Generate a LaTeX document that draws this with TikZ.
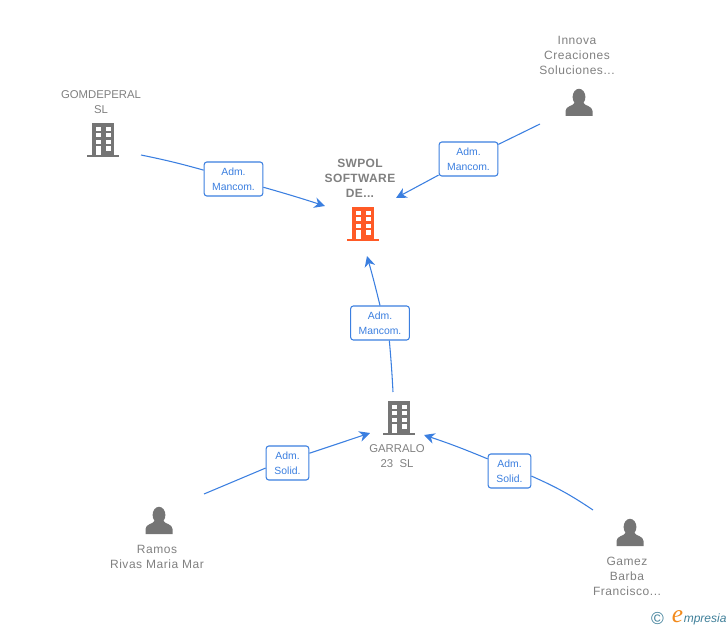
\documentclass[tikz,border=0pt]{standalone}
\usepackage{fontspec}
\setmainfont{Liberation Sans}
\newfontfamily\logofont{Liberation Serif}
\usetikzlibrary{arrows.meta}
\definecolor{linkblue}{HTML}{3B7FE0}
\definecolor{labelgray}{HTML}{808080}
\definecolor{icongray}{HTML}{757575}
\definecolor{swpolred}{HTML}{FF5A26}
\definecolor{logoteal}{HTML}{3F7F99}
\definecolor{logoorange}{HTML}{F28A1C}
\tikzset{
  nametext/.style={text=labelgray,align=center,inner sep=0pt,font=\fontsize{9}{11.25}\selectfont\addfontfeature{LetterSpace=4.5}},
  capstext/.style={text=labelgray,align=center,inner sep=0pt,font=\fontsize{8.5}{11.25}\selectfont},
  rolebox/.style={draw=linkblue,fill=white,rounded corners=2pt,line width=0.8pt,text=linkblue,align=center,
    minimum height=25.5pt,inner sep=0pt,font=\fontsize{7.8}{11.25}\selectfont},
  link/.style={linkblue,line width=0.8pt},
  linkarrow/.style={link,-{Stealth[length=8pt,width=8pt,inset=2.5pt]}},
  building/.pic={
    \fill[#1] (-11,-16.5) rectangle (11,15);
    \fill[#1] (-16,15) rectangle (16,17);
    \foreach \wy in {-13,-6.5,0} {
      \fill[white] (-7,\wy) rectangle (-2,\wy+4);
      \fill[white] (3,\wy) rectangle (8,\wy+4);
    }
    \fill[white] (-7,6.5) rectangle (-2,15);
    \fill[white] (3,6.5) rectangle (8,11);
  },
  person/.pic={
    \fill[icongray] (0,-6) ellipse (6.4 and 8.2);
    \fill[icongray] (-13.5,13) -- (-13.5,8) .. controls (-13.5,3) and (-6,3) .. (-4.5,0) -- (4.5,0)
      .. controls (6,3) and (13.5,3) .. (13.5,8) -- (13.5,13) -- cycle;
  }
}
\begin{document}
\begin{tikzpicture}[x=0.75pt,y=-0.75pt]
\useasboundingbox (0,0) rectangle (728,630);

\node[nametext,font=\fontsize{9}{11.25}\selectfont\bfseries\addfontfeature{LetterSpace=3}] (swpolText) at (360,178) {SWPOL\\SOFTWARE\\DE...};
\node[capstext] (gomText) at (101,102.5) {GOMDEPERAL\\SL};
\node[nametext] (innovaText) at (577,55) {Innova\\Creaciones\\Soluciones...};
\node[capstext] (garraloText) at (397,456) {GARRALO\\23\ \ SL};
\node[nametext] (ramosText) at (157,556.5) {Ramos\\Rivas Maria Mar};
\node[nametext] (gamezText) at (627,576) {Gamez\\Barba\\Francisco...};

\pic at (362.5,224) {building=swpolred};
\pic at (103,140) {building=icongray};
\pic at (399,418) {building=icongray};
\pic at (579,103) {person};
\pic at (159,521) {person};
\pic at (630,533) {person};

\node[rolebox,minimum width=44pt] (gomBox) at (233.5,179) {Adm.\\Mancom.};
\node[rolebox,minimum width=44pt] (innovaBox) at (468.5,159) {Adm.\\Mancom.};
\node[rolebox,minimum width=44pt] (garraloBox) at (380,323) {Adm.\\Mancom.};
\node[rolebox,minimum width=32pt] (ramosBox) at (287.5,463) {Adm.\\Solid.};
\node[rolebox,minimum width=32pt] (gamezBox) at (509.5,471) {Adm.\\Solid.};

\coordinate (gomStart) at (141,155);
\coordinate (innovaStart) at (540,124);
\coordinate (garraloStart) at (393,392);
\coordinate (ramosStart) at (204,494);
\coordinate (gamezStart) at (593,510);
\coordinate (swpolWest) at (325,206);
\coordinate (swpolEast) at (396,198);
\coordinate (swpolSouth) at (367,256);
\coordinate (garraloWest) at (370,433);
\coordinate (garraloEast) at (424,435);

\draw[link] (gomStart) to[bend left=2] (gomBox); %gomdeperal
\draw[linkarrow] (gomBox) to[bend left=1] (swpolWest);
\draw[link] (innovaStart) to (innovaBox); %innova
\draw[linkarrow] (innovaBox) to (swpolEast);
\draw[link] (garraloStart) to[bend right=1] (garraloBox.-62); %garralo
\draw[linkarrow] (garraloBox.north) to[bend right=1] (swpolSouth);
\draw[link] (ramosStart) to (ramosBox.193); %ramos
\draw[linkarrow] (ramosBox.24) to (garraloWest);
\draw[link] (gamezStart) to[bend right=5] (gamezBox.-13); %gamez
\draw[linkarrow] (gamezBox.151) to[bend right=2] (garraloEast);

\node[text=logoteal,inner sep=0pt,font=\fontsize{13}{13}\selectfont] (logoC) at (657.5,619) {©};
\node[text=logoorange,inner sep=0pt,font=\logofont\fontsize{19}{19}\selectfont\itshape] (logoE) at (677.5,616.5) {e};
\node[text=logoteal,inner sep=0pt,anchor=west,font=\fontsize{9}{10}\selectfont\itshape] (logoText) at (683.5,619) {mpresia};
\end{tikzpicture}
\end{document}
